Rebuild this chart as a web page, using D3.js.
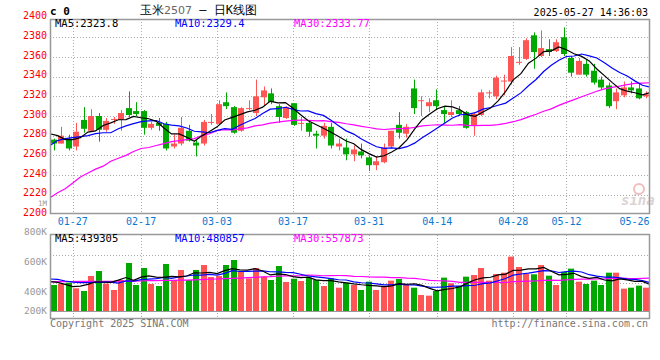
<!DOCTYPE html>
<html>
<head>
<meta charset="utf-8">
<script src="https://cdn.jsdelivr.net/npm/d3@7/dist/d3.min.js"></script>
<style>
  body { margin: 0; background: #fff; }
  svg text { font-family: "DejaVu Sans Mono", monospace; }
</style>
</head>
<body>
<div id="kline"></div>
<script>
// Candles (oldest first, 80 trading days up to 05-27)
var opens  = [2276,2272,2277,2269,2296,2285,2300,2286,2296,2296,2308,2305,2305,2288,2293,2292,2269,2272,2285,2273,
              2272,2293,2292,2314,2309,2285,2307,2303,2319,2323,2310,2298,2313,2292,2293,2282,2280,2289,2269,2268,
              2261,2264,2258,2250,2253,2269,2291,2282,2328,2315,2310,2316,2306,2301,2306,2304,2290,2301,2323,2320,
              2335,2335,2354,2358,2382,2361,2368,2366,2380,2359,2342,2353,2346,2337,2331,2315,2321,2329,2328,2320];
var highs  = [2277,2289,2281,2293,2309,2307,2303,2298,2299,2306,2325,2314,2306,2294,2298,2294,2281,2299,2291,2276,
              2296,2302,2316,2324,2310,2309,2316,2337,2330,2328,2312,2310,2313,2299,2295,2285,2293,2293,2277,2277,
              2270,2272,2260,2259,2272,2285,2304,2292,2337,2320,2318,2327,2310,2316,2310,2305,2304,2327,2326,2341,
              2342,2370,2370,2379,2385,2387,2378,2378,2390,2361,2359,2357,2353,2340,2334,2328,2335,2335,2333,2325];
var lows   = [2265,2272,2265,2265,2283,2284,2274,2284,2292,2285,2299,2300,2281,2286,2285,2265,2267,2270,2274,2259,
              2270,2291,2291,2307,2282,2284,2306,2300,2310,2312,2293,2297,2290,2285,2279,2267,2277,2267,2265,2255,
              2254,2257,2244,2245,2252,2267,2277,2278,2302,2300,2304,2306,2293,2299,2300,2287,2280,2300,2318,2317,
              2321,2332,2352,2357,2348,2360,2361,2365,2361,2340,2342,2340,2332,2327,2308,2307,2319,2323,2317,2318];
var closes = [2272,2280,2267,2284,2287,2300,2286,2295,2297,2303,2301,2302,2288,2292,2290,2267,2272,2288,2275,2270,
              2294,2294,2312,2310,2283,2308,2308,2320,2326,2314,2299,2309,2291,2293,2284,2280,2290,2270,2272,2261,
              2266,2260,2250,2254,2268,2285,2283,2289,2308,2316,2314,2310,2302,2304,2302,2288,2302,2324,2324,2339,
              2336,2361,2355,2377,2365,2369,2365,2375,2363,2344,2356,2342,2334,2329,2310,2324,2329,2326,2318,2322];

// Price moving averages as drawn
var ma5  = [2282,2280,2276,2276,2278.0,2283.6,2284.8,2290.4,2293.0,2296.2,2296.4,2299.6,2298.2,2297.2,2294.6,2287.8,2281.8,2281.8,2278.4,2274.4,
            2279.8,2284.2,2289.0,2296.0,2298.6,2301.4,2304.2,2305.8,2309.0,2315.2,2313.4,2313.6,2307.8,2301.2,2295.2,2291.4,2287.6,2283.4,2279.2,2274.6,
            2271.8,2265.8,2261.8,2258.2,2259.6,2263.4,2268.0,2275.8,2286.6,2296.2,2302.0,2307.4,2310.0,2309.2,2306.4,2301.2,2299.6,2304.0,2308.0,2315.4,
            2325.0,2336.8,2343.0,2353.6,2358.8,2365.4,2366.2,2370.2,2367.4,2363.2,2360.6,2356.0,2347.8,2341.0,2334.2,2327.8,2325.2,2323.6,2321.4,2323.8];
var ma10 = [2270,2275,2277,2278,2279,2280,2282,2283,2283,2287.1,2290.0,2292.2,2294.3,2295.1,2295.4,2292.1,2290.7,2290.0,2287.8,2284.5,
            2283.8,2283.0,2285.4,2287.2,2286.5,2290.6,2294.2,2297.4,2302.5,2306.9,2307.4,2308.9,2306.8,2305.1,2305.2,2302.4,2300.6,2295.6,2290.2,2284.9,
            2281.6,2276.7,2272.6,2268.7,2267.1,2267.6,2266.9,2268.8,2272.4,2277.9,2282.7,2287.7,2292.9,2297.9,2301.3,2301.6,2303.5,2307.0,2308.6,2310.9,
            2313.1,2318.2,2323.5,2330.8,2337.1,2345.2,2351.5,2356.6,2360.5,2361.0,2363.0,2361.1,2359.0,2354.2,2348.7,2344.2,2340.6,2335.7,2331.2,2329.4];
var ma30 = [2217,2222,2226,2232,2238,2242,2246,2249,2254,2257,2260,2264,2267,2268,2270,2272,2274,2275,2276,2277,
            2280,2282,2285,2286,2286,2287,2288,2290,2291,2292.8,2293.7,2294.7,2295.5,2295.8,2295.7,2295.0,2295.2,2294.3,2293.5,2292.1,
            2290.9,2289.5,2288.3,2287.0,2286.3,2286.9,2287.2,2287.3,2288.4,2289.9,2290.6,2291.1,2290.8,2290.6,2291.2,2290.5,2290.3,2290.5,2290.4,2291.2,
            2292.5,2294.2,2296.3,2299.1,2301.8,2304.8,2307.3,2310.8,2313.8,2316.6,2319.6,2322.3,2325.1,2327.6,2329.0,2330.3,2331.9,2333.1,2333.4,2333.77];

// Volume (thousand lots) and its averages
var volumes = [451,468,491,393,347,607,693,474,364,537,832,451,745,468,433,815,537,711,537,711,
               797,589,607,797,884,682,566,745,595,537,780,503,560,520,578,537,433,566,404,491,
               451,364,508,364,422,526,555,451,404,277,266,347,578,480,433,595,624,745,526,641,
               664,942,763,641,636,797,612,451,676,734,508,468,526,451,664,664,387,404,439,404];
var volMa5  = [508,497,462,422,430,461,506,503,497,535,580,532,586,607,586,582,600,593,607,662,
               659,669,648,700,735,712,707,735,694,625,645,632,595,580,588,540,526,527,504,486,
               469,455,444,436,422,437,475,464,472,443,391,349,374,390,421,487,542,575,585,626,
               640,704,707,730,729,756,690,627,634,654,596,567,582,537,523,555,538,514,512,460];
var volMa10 = [555,549,520,500,491,491,497,497,500,483,521,519,544,552,560,581,566,589,607,624,
               621,634,621,653,699,685,688,692,697,680,678,670,665,637,607,592,579,561,542,537,
               504,490,485,470,454,453,465,454,454,432,414,412,419,431,432,439,446,475,487,524,
               563,623,641,657,678,698,697,667,682,692,676,629,605,586,589,575,553,548,525,492];
var volMa30 = [508,510,510,511,512,512,513,514,515,516,517,518,520,525,528,530,532,534,536,540,
               545,550,555,560,565,570,577,583,590,595,606,608,610,614,622,620,611,614,615,614,
               601,598,590,587,586,577,577,569,564,550,532,524,523,512,497,495,496,496,494,498,
               494,508,515,519,521,530,536,532,541,549,551,554,555,558,566,571,565,563,565,569];

// Axis labels
var priceTicks = [2200,2220,2240,2260,2280,2300,2320,2340,2360,2380,2400];
var dateIndex  = [3,12,22,32,42,51,61,68,78];
var dateLabels = ["01-27","02-17","03-03","03-17","03-31","04-14","04-28","05-12","05-26"];
var volTicks   = [1000,800,600,400,200];
var volTickLabels = ["1M","800K","600K","400K","200K"];

var RED = "#ff5555", GREEN = "#00a800";
var n = closes.length;

var svg = d3.select("#kline")
  .append("svg")
    .attr("width", 660)
    .attr("height", 360);

// scales
var xBand = d3.scaleBand()
  .domain(d3.range(n))
  .range([50, 650])
  .paddingInner(0.2)
  .paddingOuter(0.1);
var xLine = d3.scaleLinear().domain([0, n - 1]).range([50, 650]);
var y = d3.scaleLinear().domain([2200, 2400]).range([214.4, 17.6]);
var yVol = d3.scaleLinear().domain([0, 1000]).range([311, 253.3]);
var yVolLabel = d3.scaleLinear().domain([200, 1000]).range([324.4, 205.6]);

function cx(i) { return Math.round(xBand(i) + xBand.bandwidth() / 2) + 0.5; }

// ---- grid
var grid = svg.append("g").attr("stroke", "#aaa").attr("stroke-dasharray", "1,2");
grid.selectAll(".hg")
  .data(priceTicks.slice(1, -1))
  .enter().append("line")
    .attr("x1", 50).attr("x2", 649)
    .attr("y1", function(d) { return Math.round(y(d)) + 0.5; })
    .attr("y2", function(d) { return Math.round(y(d)) + 0.5; });
grid.selectAll(".vg")
  .data(dateIndex.slice(0, -1))
  .enter().append("line")
    .attr("x1", function(d) { return Math.round(xLine(d)) + 0.5; })
    .attr("x2", function(d) { return Math.round(xLine(d)) + 0.5; })
    .attr("y1", 19).attr("y2", 213);
grid.selectAll(".vg2")
  .data(dateIndex.slice(0, -1))
  .enter().append("line")
    .attr("x1", function(d) { return Math.round(xLine(d)) + 0.5; })
    .attr("x2", function(d) { return Math.round(xLine(d)) + 0.5; })
    .attr("y1", 235).attr("y2", 318);
grid.selectAll(".vh")
  .data([255.5, 283.5])
  .enter().append("line")
    .attr("x1", 50).attr("x2", 649)
    .attr("y1", function(d) { return d; })
    .attr("y2", function(d) { return d; });

// ---- candles
var candles = svg.append("g");
candles.selectAll(".wick")
  .data(d3.range(n))
  .enter().append("line")
    .attr("x1", cx).attr("x2", cx)
    .attr("y1", function(i) { return y(highs[i]); })
    .attr("y2", function(i) { return y(lows[i]); })
    .attr("stroke", function(i) { return closes[i] >= opens[i] ? RED : GREEN; })
    .attr("stroke-width", 1);
candles.selectAll(".body")
  .data(d3.range(n))
  .enter().append("rect")
    .attr("x", function(i) { return Math.round(xBand(i)); })
    .attr("width", Math.round(xBand.bandwidth()))
    .attr("y", function(i) { return y(Math.max(opens[i], closes[i])); })
    .attr("height", function(i) { return Math.max(1, Math.abs(y(opens[i]) - y(closes[i]))); })
    .attr("fill", function(i) { return closes[i] >= opens[i] ? RED : GREEN; });

// ---- moving average lines
function maLine(g, arr, yScale, color) {
  g.append("path")
    .datum(arr)
    .attr("fill", "none")
    .attr("stroke", color)
    .attr("stroke-width", 1.2)
    .attr("d", d3.line()
      .x(function(d, i) { return xLine(i); })
      .y(function(d) { return yScale(d); }));
}
var mas = svg.append("g");
maLine(mas, ma30, y, "#ff00ff");
maLine(mas, ma10, y, "#0000ff");
maLine(mas, ma5, y, "#000000");

// ---- volume bars
svg.append("g").selectAll("rect")
  .data(d3.range(n))
  .enter().append("rect")
    .attr("x", function(i) { return Math.round(xBand(i)); })
    .attr("width", Math.round(xBand.bandwidth()))
    .attr("y", function(i) { return yVol(volumes[i]); })
    .attr("height", function(i) { return yVol(0) - yVol(volumes[i]); })
    .attr("fill", function(i) { return closes[i] >= opens[i] ? RED : GREEN; });
var vmas = svg.append("g");
maLine(vmas, volMa30, yVol, "#ff00ff");
maLine(vmas, volMa10, yVol, "#0000ff");
maLine(vmas, volMa5, yVol, "#000000");

// ---- frames
svg.append("rect")
  .attr("x", 50.5).attr("y", 19.5).attr("width", 599).attr("height", 194)
  .attr("fill", "none").attr("stroke", "#999").attr("stroke-width", 1.5);
svg.append("rect")
  .attr("x", 50.5).attr("y", 234.5).attr("width", 599).attr("height", 84)
  .attr("fill", "none").attr("stroke", "#999").attr("stroke-width", 1.5);
svg.append("line")
  .attr("x1", 50).attr("x2", 650).attr("y1", 311.5).attr("y2", 311.5)
  .attr("stroke", "#999").attr("stroke-width", 1);

// ---- axis labels
svg.append("g").selectAll("text")
  .data(priceTicks)
  .enter().append("text")
    .attr("x", 47).attr("y", function(d) { return y(d) + 1.7; })
    .attr("text-anchor", "end")
    .attr("font-size", "10px")
    .attr("fill", "#f00")
    .text(function(d) { return d; });

svg.append("g").selectAll("text")
  .data(dateIndex)
  .enter().append("text")
    .attr("x", function(d) { return Math.min(xLine(d), 634.5); })
    .attr("y", 225)
    .attr("text-anchor", "middle")
    .attr("font-size", "10px")
    .attr("fill", "#0a78d0")
    .text(function(d, i) { return dateLabels[i]; });

svg.append("g").selectAll("text")
  .data(volTicks)
  .enter().append("text")
    .attr("x", 47).attr("y", function(d) { return Math.min(yVolLabel(d), 314.3); })
    .attr("text-anchor", "end")
    .attr("font-size", function(d) { return d >= 1000 ? "7.5px" : "9.5px"; })
    .attr("fill", "#999")
    .text(function(d, i) { return volTickLabels[i]; });

// ---- legends
function legend(yPos, items) {
  svg.append("g").selectAll("text")
    .data(items)
    .enter().append("text")
      .attr("x", function(d) { return d[0]; })
      .attr("y", yPos)
      .attr("font-size", "10.5px")
      .attr("fill", function(d) { return d[2]; })
      .text(function(d) { return d[1]; });
}
legend(27, [[55, "MA5:" + ma5[n - 1].toFixed(1), "#000"],
            [175, "MA10:" + ma10[n - 1].toFixed(1), "#0000ff"],
            [294, "MA30:" + ma30[n - 1].toFixed(2), "#ff00ff"]]);
legend(242, [[55, "MA5:439305", "#000"],
             [175, "MA10:480857", "#0000ff"],
             [294, "MA30:557873", "#ff00ff"]]);

// ---- header
svg.append("text")
  .attr("x", 50).attr("y", 15)
  .attr("font-size", "11px").attr("font-weight", "bold")
  .text("c 0");
var title = svg.append("text")
  .attr("x", 140).attr("y", 14)
  .attr("font-size", "12px")
  .attr("font-family", "'Noto Sans CJK SC', sans-serif");
title.append("tspan").text("玉米");
title.append("tspan").attr("fill", "#666").attr("font-family", "'DejaVu Sans', sans-serif").attr("font-size", "11px").text("2507");
title.append("tspan").text(" – 日K线图");
svg.append("text")
  .attr("x", 648).attr("y", 16)
  .attr("text-anchor", "end")
  .attr("font-size", "10px")
  .text("2025-05-27 14:36:03");

// ---- footer
svg.append("text")
  .attr("x", 50).attr("y", 327)
  .attr("font-size", "10px").attr("fill", "#777")
  .text("Copyright 2025 SINA.COM");
svg.append("text")
  .attr("x", 648).attr("y", 327)
  .attr("text-anchor", "end")
  .attr("font-size", "10px").attr("fill", "#777")
  .text("http://finance.sina.com.cn");

// ---- watermark
var wm = svg.append("g").attr("opacity", 0.45);
wm.append("circle").attr("cx", 639).attr("cy", 189).attr("r", 5)
  .attr("fill", "none").attr("stroke", "#e07070").attr("stroke-width", 2);
wm.append("text").attr("x", 621).attr("y", 205)
  .attr("font-family", "'DejaVu Sans', sans-serif")
  .attr("font-size", "14px").attr("font-weight", "bold").attr("font-style", "italic")
  .attr("fill", "#b0a0a0")
  .text("sina");
</script>
</body>
</html>
